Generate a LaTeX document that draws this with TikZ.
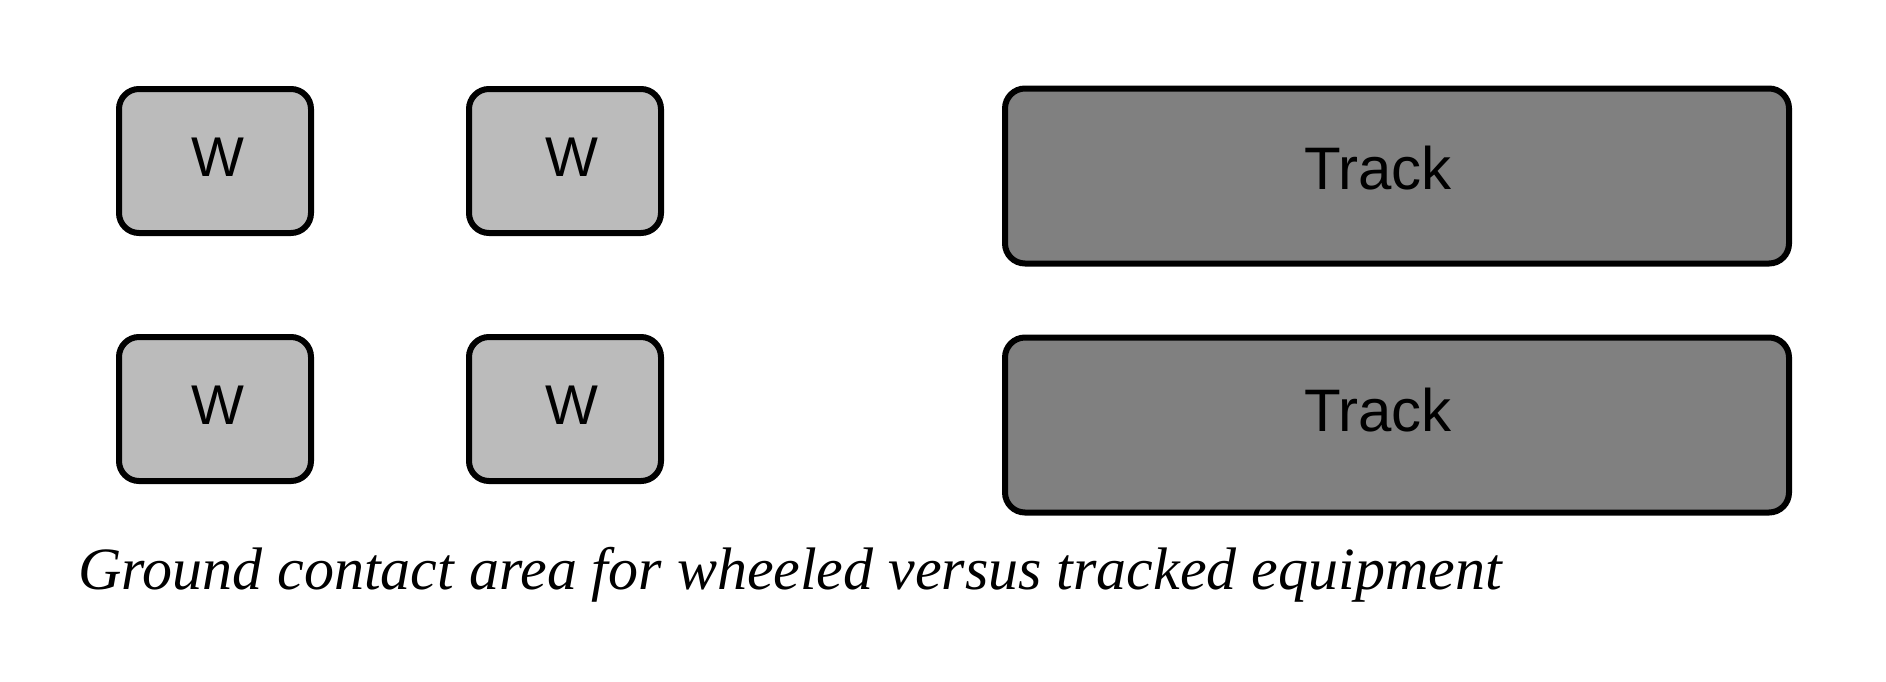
\documentclass[tikz,border=0pt]{standalone}
\usepackage{fontspec}
\setmainfont{Liberation Serif}
\newfontfamily\labfont{Liberation Sans}
\definecolor{wheelgray}{HTML}{BBBBBB}
\definecolor{trackgray}{HTML}{808080}
\begin{document}
\begin{tikzpicture}[x=1pt,y=-1pt,
  wheelbox/.style={draw=black,line width=6pt,rounded corners=20pt,fill=wheelgray,inner sep=0pt,minimum width=192pt,minimum height=144pt},
  trackbox/.style={draw=black,line width=6pt,rounded corners=20pt,fill=trackgray,inner sep=0pt,minimum width=784pt,minimum height=175pt},
  lab/.style={font=\labfont\fontsize{56}{60}\selectfont,inner sep=0pt,anchor=base},
  tlab/.style={font=\labfont\fontsize{60}{66}\selectfont,inner sep=0pt,anchor=base}]
\useasboundingbox (0,0) rectangle (1886,681);
\node[wheelbox] (w1) at (215,161) {};
\node[wheelbox] (w2) at (565,161) {};
\node[wheelbox] (w3) at (215,409) {};
\node[wheelbox] (w4) at (565,409) {};
\node[trackbox] (t1) at (1397,176) {};
\node[trackbox] (t2) at (1397,425) {};
\node[lab] (w1t) at (218,176) {W};
\node[lab] (w2t) at (572,176) {W};
\node[lab] (w3t) at (218,424) {W};
\node[lab] (w4t) at (572,424) {W};
\node[tlab] (t1t) at (1378,189) {Track};
\node[tlab] (t2t) at (1378,431) {Track};
\node[font=\itshape\fontsize{60}{66}\selectfont,inner sep=0pt,anchor=base west] (cap) at (78,589) {Ground contact area for wheeled versus tracked equipment};
\end{tikzpicture}
\end{document}
